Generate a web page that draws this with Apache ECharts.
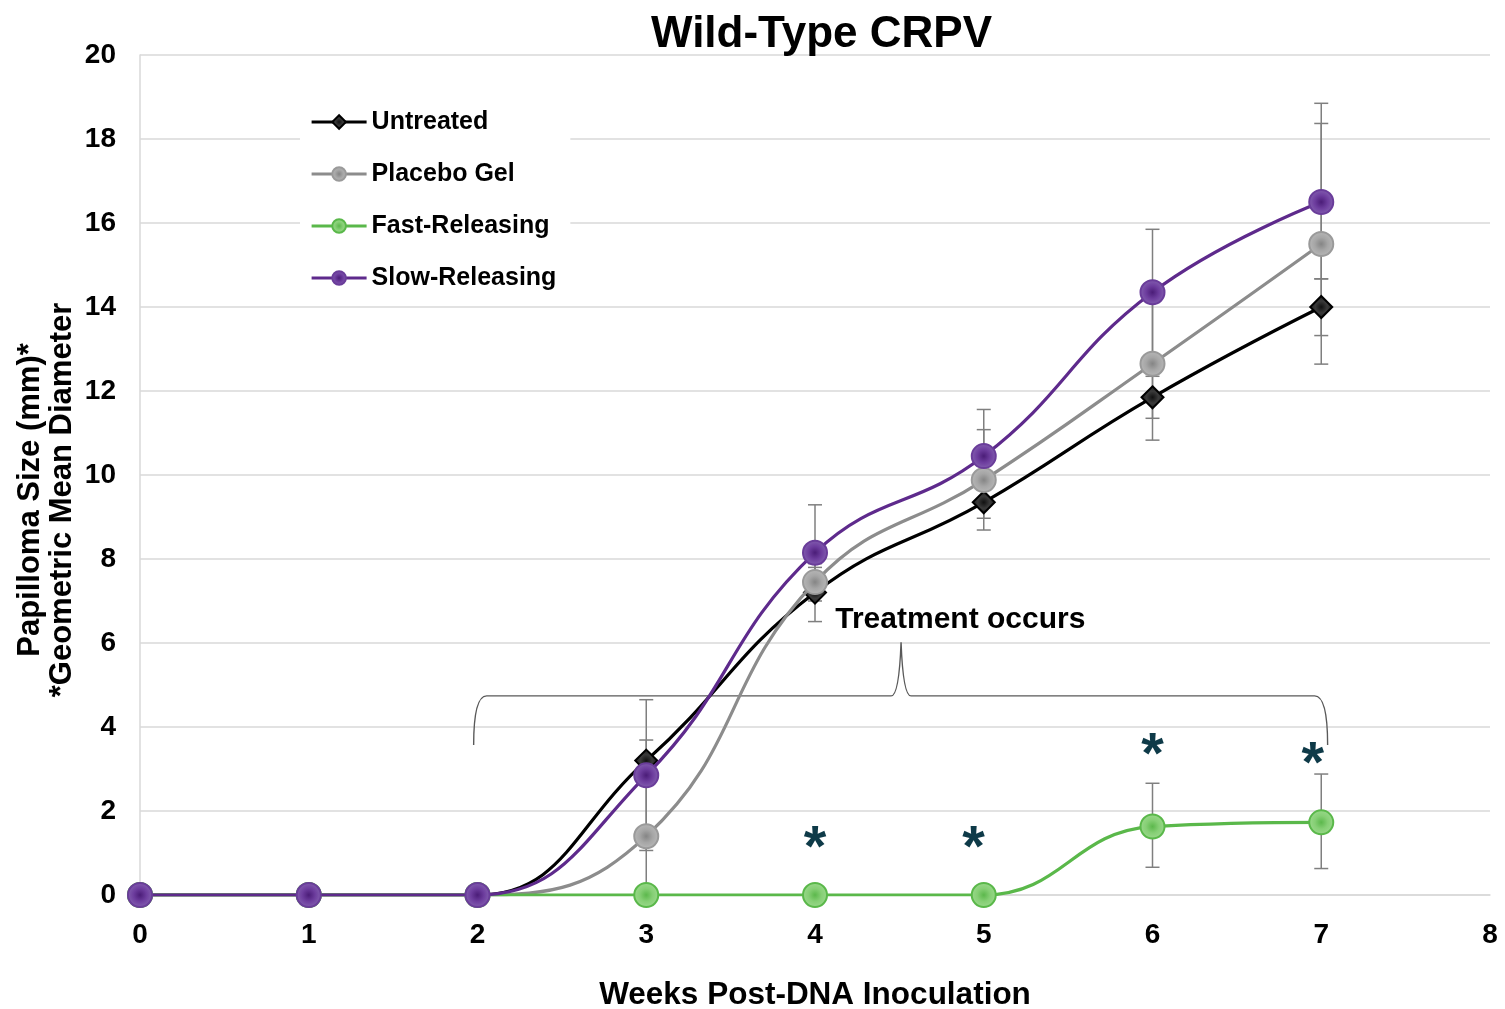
<!DOCTYPE html>
<html>
<head>
<meta charset="utf-8">
<script src="https://cdn.jsdelivr.net/npm/echarts@6/dist/echarts.min.js"></script>
<style>
html,body{margin:0;padding:0;background:#fff;}
#chart{width:1505px;height:1009px;}
</style>
</head>
<body>
<div id="chart"></div>
<script>
// ---- data ----
const weeks = [0, 1, 2, 3, 4, 5, 6, 7];
const seriesNames = ['Untreated', 'Placebo Gel', 'Fast-Releasing', 'Slow-Releasing'];
const untreated = [0, 0, 0, 3.2, 7.2, 9.35, 11.85, 14.0];
const placebo   = [0, 0, 0, 1.4, 7.45, 9.88, 12.65, 15.5];
const fast      = [0, 0, 0, 0, 0, 0, 1.63, 1.73];
const slow      = [0, 0, 0, 2.85, 8.15, 10.45, 14.35, 16.5];
// error bar ends (low / high), null = no bar
const untreatedLow  = [null, null, null, 2.71, 6.51, 8.69, 11.35, 13.32];
const untreatedHigh = [null, null, null, 3.69, 7.89, 10.01, 12.35, 14.67];
const placeboLow    = [null, null, null, 0.0, 7.1, 8.97, 10.83, 12.64];
const placeboHigh   = [null, null, null, 2.8, 7.8, 11.08, 14.47, 18.37];
const fastLow       = [null, null, null, null, null, null, 0.66, 0.63];
const fastHigh      = [null, null, null, null, null, null, 2.66, 2.88];
const slowLow       = [null, null, null, 1.06, 7.0, 9.33, 12.85, 14.67];
const slowHigh      = [null, null, null, 4.65, 9.29, 11.56, 15.85, 18.85];
// significance stars
const starX = [4, 4.94, 6, 6.95];
const starY = [1.07, 1.07, 3.28, 3.06];
// treatment brace (data coords)
const braceStart = 1.995, braceEnd = 7.02, braceMid = 4.51;
const braceLevel = 4.74, braceFoot = 3.57, braceTip = 6.02;
const braceLabel = 'Treatment occurs';
const braceLabelPos = [4.12, 6.55];
const xTicks = [0, 1, 2, 3, 4, 5, 6, 7, 8];
const yTicks = [0, 2, 4, 6, 8, 10, 12, 14, 16, 18, 20];
const yTitle = 'Papilloma Size (mm)*\n*Geometric Mean Diameter';
const xTitle = 'Weeks Post-DNA Inoculation';

const FONT = '"Liberation Sans", Arial, sans-serif';
const chart = echarts.init(document.getElementById('chart'), null, {renderer: 'canvas'});

function radial(stops) {
  return {type: 'radial', x: 0.5, y: 0.5, r: 0.5,
    colorStops: stops.map((c, i) => ({offset: i / (stops.length - 1), color: c}))};
}
const styles = [
  {line: '#000000', symbol: 'diamond', size: 22,
   fill: radial(['#111111', '#3a3a3a', '#1a1a1a']), border: '#000000'},
  {line: '#8c8c8c', symbol: 'circle', size: 24,
   fill: radial(['#858585', '#a6a6a6', '#b8b8b8']), border: '#9a9a9a'},
  {line: '#5ab84a', symbol: 'circle', size: 24,
   fill: radial(['#5cb84c', '#86cf75', '#9bd98c']), border: '#5ab84a'},
  {line: '#5e2a8c', symbol: 'circle', size: 24,
   fill: radial(['#4b1d78', '#6d3d9e', '#8460b0']), border: '#6a3d9a'}
];
const values = [untreated, placebo, fast, slow];
const lows = [untreatedLow, placeboLow, fastLow, slowLow];
const highs = [untreatedHigh, placeboHigh, fastHigh, slowHigh];

const lineSeries = seriesNames.map((name, i) => ({
  name: name,
  type: 'line',
  smooth: 0.45,
  z: 3 + i,
  data: weeks.map((w, k) => [w, values[i][k]]),
  symbol: styles[i].symbol,
  symbolSize: styles[i].size,
  showAllSymbol: true,
  lineStyle: {color: styles[i].line, width: 3.2},
  itemStyle: {color: styles[i].fill, borderColor: styles[i].border, borderWidth: 2},
  emphasis: {disabled: true},
  animation: false
}));

const errorSeries = seriesNames.map((name, i) => ({
  type: 'custom',
  z: 2,
  silent: true,
  animation: false,
  data: weeks.map((w, k) => [w, lows[i][k], highs[i][k]]).filter(d => d[1] !== null),
  renderItem: function (params, api) {
    const x = api.value(0), lo = api.value(1), hi = api.value(2);
    const p1 = api.coord([x, lo]), p2 = api.coord([x, hi]);
    const hw = 7;
    const st = {stroke: '#7f7f7f', lineWidth: 1.5};
    return {type: 'group', children: [
      {type: 'line', shape: {x1: p1[0], y1: p1[1], x2: p2[0], y2: p2[1]}, style: st},
      {type: 'line', shape: {x1: p1[0] - hw, y1: p1[1], x2: p1[0] + hw, y2: p1[1]}, style: st},
      {type: 'line', shape: {x1: p2[0] - hw, y1: p2[1], x2: p2[0] + hw, y2: p2[1]}, style: st}
    ]};
  }
}));

const starSeries = {
  type: 'custom', z: 10, silent: true, animation: false,
  data: starX.map((x, i) => [x, starY[i]]),
  renderItem: function (params, api) {
    const p = api.coord([api.value(0), api.value(1)]);
    return {type: 'text', x: p[0], y: p[1],
      style: {text: '*', fill: '#0e3a48', font: 'bold 58px ' + FONT,
        align: 'center', verticalAlign: 'middle'}};
  }
};

const braceSeries = {
  type: 'custom', z: 1, silent: true, animation: false,
  data: [[braceStart, braceEnd, braceMid, braceLevel, braceFoot, braceTip]],
  renderItem: function (params, api) {
    const a = api.coord([api.value(0), api.value(3)]);
    const b = api.coord([api.value(1), api.value(3)]);
    const m = api.coord([api.value(2), api.value(5)]);
    const foot = api.coord([0, api.value(4)])[1];
    const y = a[1];
    const path =
      'M' + (a[0] - 3) + ',' + foot +
      ' Q' + (a[0] - 3) + ',' + y + ' ' + (a[0] + 10) + ',' + y +
      ' L' + (m[0] - 10) + ',' + y +
      ' Q' + (m[0] - 2) + ',' + y + ' ' + m[0] + ',' + m[1] +
      ' Q' + (m[0] + 2) + ',' + y + ' ' + (m[0] + 10) + ',' + y +
      ' L' + (b[0] - 10) + ',' + y +
      ' Q' + (b[0] + 3) + ',' + y + ' ' + (b[0] + 3) + ',' + foot;
    const t = api.coord(braceLabelPos);
    return {type: 'group', children: [
      {type: 'path', shape: {pathData: path},
        style: {stroke: '#595959', lineWidth: 1.4, fill: null}},
      {type: 'text', x: t[0], y: t[1],
        style: {text: braceLabel, fill: '#000', font: 'bold 30px ' + FONT,
          align: 'left', verticalAlign: 'middle'}}
    ]};
  }
};

const option = {
  backgroundColor: '#ffffff',
  animation: false,
  title: {
    text: 'Wild-Type CRPV',
    left: 646, top: 8,
    textStyle: {fontFamily: FONT, fontWeight: 'bold', fontSize: 44, color: '#000'}
  },
  graphic: [{
    type: 'text', x: 46, y: 500, rotation: Math.PI / 2, silent: true,
    style: {text: yTitle, font: 'bold 31px ' + FONT, fill: '#000',
      align: 'center', verticalAlign: 'middle', lineHeight: 32}
  }],
  legend: {
    orient: 'vertical',
    left: 300, top: 99,
    padding: [8, 14, 10, 10],
    backgroundColor: '#ffffff',
    itemWidth: 55, itemHeight: 17,
    itemGap: 22,
    data: seriesNames.map(n => ({name: n})),
    lineStyle: {width: 3.2},
    textStyle: {fontFamily: FONT, fontWeight: 'bold', fontSize: 25, color: '#000', lineHeight: 30},
    selectedMode: false
  },
  grid: {left: 140, right: 15, top: 55, bottom: 114, containLabel: false, outerBoundsMode: 'none'},
  xAxis: {
    type: 'value', min: 0, max: 8, interval: 1,
    name: xTitle,
    nameLocation: 'middle', nameGap: 84,
    nameTextStyle: {fontFamily: FONT, fontWeight: 'bold', fontSize: 31.5, color: '#000'},
    axisLine: {show: true, lineStyle: {color: '#d9d9d9', width: 1.5}},
    axisTick: {show: false},
    splitLine: {show: false},
    axisLabel: {fontFamily: FONT, fontWeight: 'bold', fontSize: 28, color: '#000', margin: 26,
      formatter: v => xTicks.includes(v) ? String(v) : ''}
  },
  yAxis: {
    type: 'value', min: 0, max: 20, interval: 2,
    axisLine: {show: true, lineStyle: {color: '#d9d9d9', width: 1.5}},
    axisTick: {show: false},
    splitLine: {show: true, lineStyle: {color: '#d9d9d9', width: 1.5}},
    axisLabel: {fontFamily: FONT, fontWeight: 'bold', fontSize: 28, color: '#000', margin: 24,
      formatter: v => yTicks.includes(v) ? String(v) : ''}
  },
  series: [braceSeries].concat(errorSeries, lineSeries, [starSeries])
};
chart.setOption(option);
</script>
</body>
</html>
